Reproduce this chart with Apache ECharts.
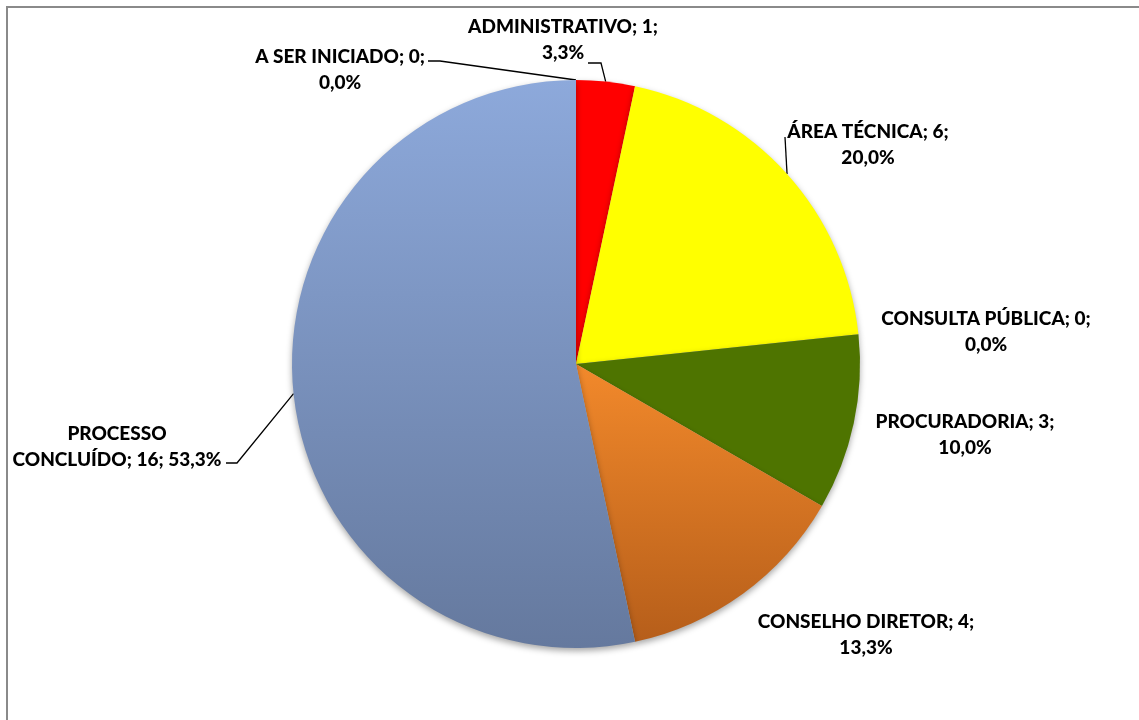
<!DOCTYPE html>
<html>
<head>
<meta charset="utf-8">
<script src="https://cdn.jsdelivr.net/npm/echarts@6/dist/echarts.min.js"></script>
<style>
  html, body { margin: 0; padding: 0; background: #fff; }
  #main { width: 1139px; height: 720px; }
</style>
</head>
<body>
<div id="main"></div>
<script>
// categories and values, clockwise from 12 o'clock
const categories = [
  "ADMINISTRATIVO",
  "ÁREA TÉCNICA",
  "CONSULTA PÚBLICA",
  "PROCURADORIA",
  "CONSELHO DIRETOR",
  "PROCESSO CONCLUÍDO",
  "A SER INICIADO"
];
const values = [1, 6, 0, 3, 4, 16, 0];

// slice fills
const colors = [
  "#FF0000",
  "#FFFF00",
  "#4F81BD",
  "#4E7400",
  { type: "linear", x: 0, y: 0, x2: 0, y2: 1,
    colorStops: [{ offset: 0, color: "#F2892B" }, { offset: 1, color: "#B65E1A" }] },
  { type: "linear", x: 0, y: 0, x2: 0, y2: 1,
    colorStops: [{ offset: 0, color: "#8DA9DB" }, { offset: 1, color: "#65799E" }] },
  "#C0504D"
];

// where each label sits (manually placed, like the original), and the elbow of its leader line
const labelPos = [
  { x: 563, y: 40, line: [[601, 63], [588, 63]] },
  { x: 868, y: 145, line: [[785, 137]] },
  { x: 986, y: 332, line: null },
  { x: 965, y: 435, line: null },
  { x: 866, y: 635, line: null },
  { x: 117, y: 447, line: [[237, 463], [226, 463]] },
  { x: 340, y: 70, line: [[440, 61], [428, 61]] }
];

const total = values.reduce((a, b) => a + b, 0);
const pct = v => (v / total * 100).toFixed(1).replace(".", ",") + "%";

var chartDom = document.getElementById("main");
var myChart = echarts.init(chartDom);

const data = categories.map((name, i) => ({
  name: name,
  value: values[i],
  itemStyle: { color: colors[i] },
  labelLine: { show: !!labelPos[i].line }
}));

const option = {
  backgroundColor: "#fff",
  animation: false,
  graphic: [
    {
      type: "rect",
      shape: { x: 7, y: 7, width: 1150, height: 730 },
      style: { fill: "none", stroke: "#8a8a8a", lineWidth: 2 }
    }
  ],
  series: [
    {
      type: "pie",
      center: [576, 364],
      radius: 284,
      startAngle: 90,
      clockwise: true,
      minAngle: 0,
      avoidLabelOverlap: false,
      data: data,
      itemStyle: {
        borderWidth: 0,
        shadowBlur: 6,
        shadowOffsetY: 3,
        shadowColor: "rgba(0,0,0,0.35)"
      },
      label: {
        show: true,
        position: "outside",
        color: "#000",
        fontFamily: "Lato",
        fontWeight: 900,
        fontSize: 19,
        lineHeight: 26,
        align: "center",
        formatter: p => {
          if (p.name === "PROCESSO CONCLUÍDO") {
            return "PROCESSO\nCONCLUÍDO; " + p.value + "; " + pct(p.value);
          }
          return p.name + "; " + p.value + ";\n" + pct(p.value);
        }
      },
      labelLine: {
        show: true,
        lineStyle: { color: "#000", width: 1.3 }
      },
      labelLayout: params => {
        const lp = labelPos[params.dataIndex];
        const out = { x: lp.x, y: lp.y, align: "center", verticalAlign: "middle" };
        if (lp.line && params.labelLinePoints) {
          out.labelLinePoints = [params.labelLinePoints[0]].concat(lp.line);
        }
        return out;
      }
    }
  ]
};

option && myChart.setOption(option);
</script>
</body>
</html>
